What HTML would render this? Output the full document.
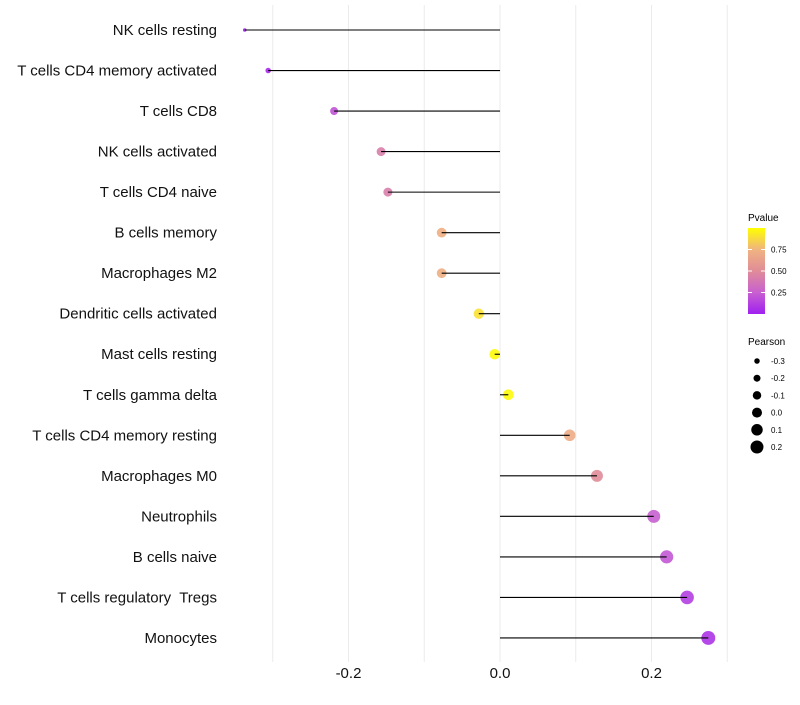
<!DOCTYPE html>
<html><head><meta charset="utf-8"><style>
body{margin:0;background:#fff;font-family:"Liberation Sans",sans-serif}
svg text{font-family:"Liberation Sans",sans-serif;white-space:pre}
</style></head><body>
<svg id="chart" width="800" height="700">
<defs><linearGradient id="pg" x1="0" y1="1" x2="0" y2="0">
<stop offset="0" stop-color="#a020f0"/><stop offset="0.25" stop-color="#c860d0"/><stop offset="0.5" stop-color="#e08c98"/><stop offset="0.75" stop-color="#f0b480"/><stop offset="1" stop-color="#ffff00"/></linearGradient></defs>
<g id="grid"></g><g id="points"></g><g id="stems"></g><g id="ylabels"></g><g id="xlabels"></g>
<g>
<text x="748" y="221" font-size="10">Pvalue</text>
<rect x="748" y="228" width="17" height="86" fill="url(#pg)"/>
<g id="cbticks"></g>
</g>
<g id="sizeLegend">
<text x="748" y="345" font-size="10">Pearson</text>
</g>
</svg>
<script>
const categories=["NK cells resting","T cells CD4 memory activated","T cells CD8","NK cells activated","T cells CD4 naive","B cells memory","Macrophages M2","Dendritic cells activated","Mast cells resting","T cells gamma delta","T cells CD4 memory resting","Macrophages M0","Neutrophils","B cells naive","T cells regulatory  Tregs","Monocytes"];
const pearson=[-0.337,-0.306,-0.219,-0.157,-0.148,-0.077,-0.077,-0.028,-0.007,0.011,0.092,0.128,0.203,0.220,0.247,0.275];
const pvalue=[0.02,0.03,0.2,0.42,0.42,0.72,0.72,0.9,0.98,0.98,0.7,0.5,0.25,0.22,0.12,0.08];
const xTicks=[-0.2,0.0,0.2];
const gridVals=[-0.3,-0.2,-0.1,0,0.1,0.2,0.3];
const sizeLegendVals=[-0.3,-0.2,-0.1,0.0,0.1,0.2];
const cbTicks=[0.25,0.5,0.75];

const NS="http://www.w3.org/2000/svg";
const x=v=>500+v*757.5;
const y=i=>30+i*40.53;
// size scale (piecewise radius mapping)
const rK=[-0.34,-0.31,-0.22,-0.15,0.13,0.28], rR=[1.7,2.7,4,4.5,6,7];
function r(v){if(v<=rK[0])return rR[0];for(let k=1;k<rK.length;k++){if(v<=rK[k]){const t=(v-rK[k-1])/(rK[k]-rK[k-1]);return rR[k-1]+(rR[k]-rR[k-1])*t;}}return rR[rR.length-1];}
const legR=v=>5+7.5*v;
const stops=[[0,[160,32,240]],[0.25,[200,96,208]],[0.5,[224,140,152]],[0.75,[240,180,128]],[1,[255,255,0]]];
function color(p){for(let k=1;k<stops.length;k++){if(p<=stops[k][0]){const a=stops[k-1],b=stops[k];const t=(p-a[0])/(b[0]-a[0]);
 return 'rgb('+a[1].map((c,i)=>Math.round(c+(b[1][i]-c)*t)).join(',')+')';}}return 'rgb(255,255,0)';}
function mk(tag,attrs,parent){const e=document.createElementNS(NS,tag);for(const k in attrs)e.setAttribute(k,attrs[k]);parent.appendChild(e);return e;}
const grid=document.getElementById('grid'),pts=document.getElementById('points'),stems=document.getElementById('stems'),yl=document.getElementById('ylabels'),xl=document.getElementById('xlabels');
gridVals.forEach(v=>{const l=mk('line',{x1:x(v),x2:x(v),y1:5,y2:662,stroke:'#ebebeb','stroke-width':1},grid);

});
categories.forEach((c,i)=>{
const d=mk('circle',{cx:x(pearson[i]),cy:y(i),r:r(pearson[i]),fill:color(pvalue[i]),'fill-opacity':0.9},pts);


const l=mk('line',{x1:x(0),x2:x(pearson[i]),y1:y(i),y2:y(i),stroke:'#000','stroke-width':1.1},stems);


const t=mk('text',{x:217,y:y(i)+5,'text-anchor':'end','font-size':15,fill:'#111'},yl);t.textContent=c;

});
xTicks.forEach(v=>{const t=mk('text',{x:x(v),y:678,'text-anchor':'middle','font-size':15,fill:'#111'},xl);t.textContent=v.toFixed(1);

});
const cb=document.getElementById('cbticks');
cbTicks.forEach(p=>{const yy=314-p*86;mk('line',{x1:748,x2:752,y1:yy,y2:yy,stroke:'#fff'},cb);mk('line',{x1:761,x2:765,y1:yy,y2:yy,stroke:'#fff'},cb);
const t=mk('text',{x:771,y:yy+3,'font-size':8},cb);t.textContent=p.toFixed(2);

});
const sl=document.getElementById('sizeLegend');
sizeLegendVals.forEach((v,i)=>{const yy=361+i*17.2;const c=mk('circle',{cx:757,cy:yy,r:legR(v),fill:'#000'},sl);


const t=mk('text',{x:771,y:yy+3,'font-size':8},sl);t.textContent=v.toFixed(1);

});
</script>
</body></html>
